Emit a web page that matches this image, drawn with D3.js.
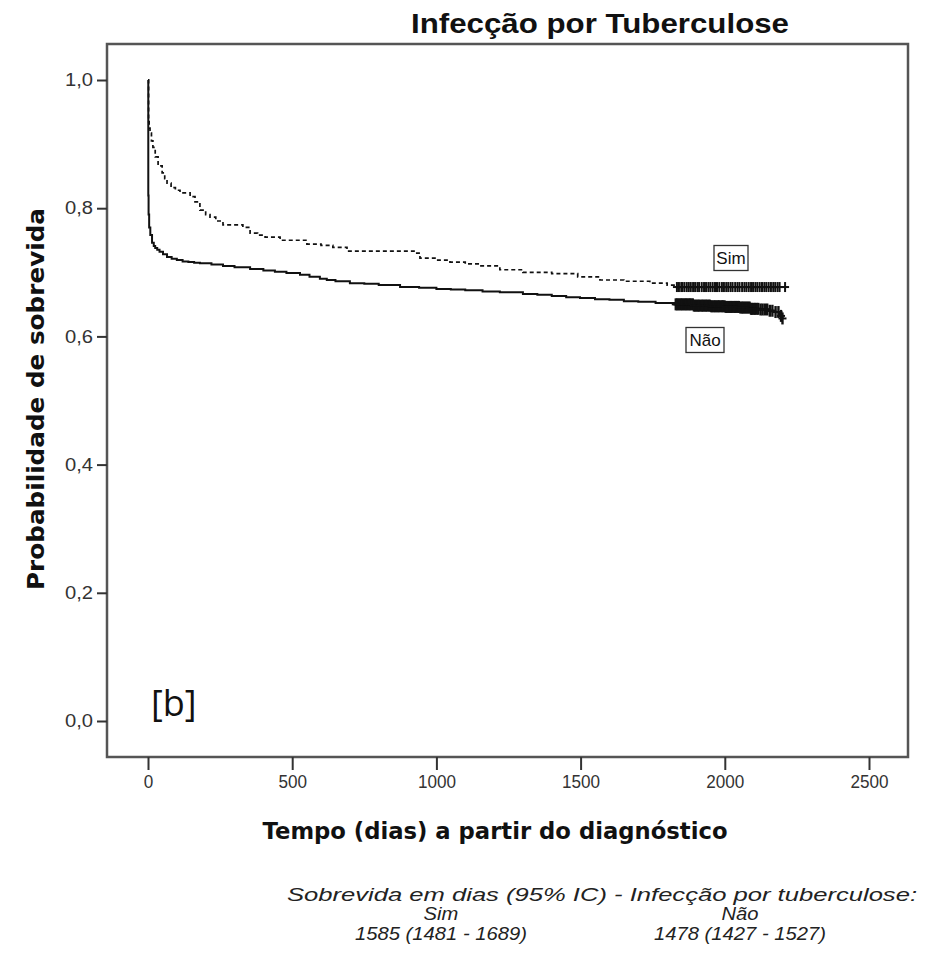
<!DOCTYPE html>
<html><head><meta charset="utf-8">
<script src="https://cdn.jsdelivr.net/npm/d3@7"></script>
<style>body{margin:0;background:#fff}</style>
</head><body>
<svg id="c" width="931" height="966"></svg>
<script>
// ---- data ----
const chartTitle = "Infecção por Tuberculose";
const xTitle = "Tempo (dias) a partir do diagnóstico";
const yTitle = "Probabilidade de sobrevida";
const xTicks = [0, 500, 1000, 1500, 2000, 2500];
const yTicks = [0, 0.2, 0.4, 0.6, 0.8, 1.0];
const groups = ["Sim", "Não"];

const simTime = [0, 2, 4, 7, 12, 17, 25, 35, 49, 58, 66, 80, 95, 111, 146, 163, 180, 200, 215, 235, 260, 329, 354, 380, 406, 458, 527, 551, 600, 641, 690, 926, 943, 1000, 1047, 1100, 1150, 1220, 1300, 1400, 1490, 1567, 1650, 1740, 1800, 1834];
const simSurv = [1.0, 0.935, 0.925, 0.917, 0.905, 0.895, 0.88, 0.866, 0.855, 0.846, 0.839, 0.832, 0.828, 0.824, 0.818, 0.81, 0.797, 0.79, 0.786, 0.78, 0.774, 0.77, 0.761, 0.758, 0.755, 0.750, 0.750, 0.744, 0.742, 0.739, 0.733, 0.730, 0.722, 0.719, 0.716, 0.713, 0.710, 0.704, 0.700, 0.698, 0.693, 0.688, 0.686, 0.683, 0.680, 0.677];
const simCensor = [1834, 1841, 1849, 1853, 1860, 1868, 1875, 1882, 1890, 1897, 1905, 1911, 1920, 1928, 1935, 1943, 1950, 1958, 1966, 1973, 1981, 1990, 1997, 2005, 2012, 2020, 2027, 2036, 2044, 2051, 2060, 2068, 2075, 2083, 2091, 2098, 2106, 2113, 2121, 2129, 2137, 2144, 2152, 2160, 2168, 2175, 2183, 2190, 2209];

const naoTime = [0, 1, 2, 4, 8, 14, 20, 25, 32, 40, 52, 66, 82, 100, 120, 140, 160, 180, 220, 260, 300, 354, 400, 440, 480, 527, 560, 596, 620, 650, 700, 750, 800, 874, 940, 1000, 1050, 1100, 1160, 1220, 1300, 1350, 1400, 1450, 1498, 1550, 1600, 1650, 1700, 1760, 1830, 1890, 1950, 2000, 2050, 2090, 2120, 2150, 2170, 2190, 2200];
const naoSurv = [1.0, 0.82, 0.79, 0.77, 0.758, 0.746, 0.741, 0.738, 0.735, 0.732, 0.728, 0.724, 0.721, 0.719, 0.717, 0.716, 0.715, 0.714, 0.712, 0.710, 0.708, 0.705, 0.703, 0.701, 0.699, 0.696, 0.693, 0.690, 0.688, 0.686, 0.683, 0.682, 0.680, 0.677, 0.676, 0.674, 0.673, 0.672, 0.670, 0.669, 0.666, 0.665, 0.663, 0.661, 0.660, 0.658, 0.657, 0.655, 0.654, 0.652, 0.650, 0.648, 0.647, 0.646, 0.645, 0.643, 0.642, 0.640, 0.638, 0.632, 0.628];
const naoCensor = [1830, 1834, 1839, 1843, 1848, 1852, 1857, 1861, 1866, 1870, 1875, 1879, 1884, 1889, 1893, 1898, 1902, 1907, 1911, 1916, 1921, 1925, 1930, 1934, 1939, 1944, 1948, 1953, 1957, 1962, 1967, 1971, 1976, 1980, 1985, 1990, 1994, 1999, 2003, 2008, 2013, 2017, 2022, 2026, 2031, 2036, 2040, 2045, 2049, 2054, 2059, 2063, 2068, 2072, 2077, 2082, 2086, 2091, 2095, 2100, 2105, 2110, 2116, 2124, 2131, 2139, 2147, 2156, 2165, 2176, 2186, 2195, 2200];

const footLine1 = "Sobrevida em dias (95% IC) - Infecção por tuberculose:";
const footGroups = ["Sim", "Não"];
const footValues = ["1585 (1481 - 1689)", "1478 (1427 - 1527)"];
const panelTag = "[b]";

// ---- drawing ----
const svg = d3.select("#c");
const x = d3.scaleLinear().domain([0, 2500]).range([148, 869]);
const y = d3.scaleLinear().domain([0, 1]).range([721, 80]);

function stretch(sel, f) {
  sel.each(function() {
    const w = this.getComputedTextLength();
    d3.select(this).attr("textLength", w * f).attr("lengthAdjust", "spacingAndGlyphs");
  });
}
function fitTo(sel, w) {
  sel.attr("textLength", w).attr("lengthAdjust", "spacingAndGlyphs");
}

// frame
svg.append("rect").attr("x", 107).attr("y", 44).attr("width", 801).attr("height", 713)
  .attr("fill", "none").attr("stroke", "#555").attr("stroke-width", 2.5);

// y axis
const yAx = svg.append("g").attr("transform", "translate(107,0)")
  .call(d3.axisLeft(y).tickValues(yTicks).tickSize(10).tickPadding(4)
    .tickFormat(d => d3.format(".1f")(d).replace(".", ",")));
yAx.select(".domain").remove();
yAx.selectAll("line").attr("stroke", "#333").attr("stroke-width", 2);
yAx.selectAll("text").attr("font-family", "Liberation Sans, Arial, sans-serif").attr("font-size", 18).attr("fill", "#333");
stretch(yAx.selectAll("text"), 1.12);

// x axis
const xAx = svg.append("g").attr("transform", "translate(0,757)")
  .call(d3.axisBottom(x).tickValues(xTicks).tickSize(13).tickPadding(5).tickFormat(d3.format("d")));
xAx.select(".domain").remove();
xAx.selectAll("line").attr("stroke", "#333").attr("stroke-width", 2);
xAx.selectAll("text").attr("font-family", "Liberation Sans, Arial, sans-serif").attr("font-size", 18).attr("fill", "#333");
stretch(xAx.selectAll("text"), 0.95);

// curves
const line = d3.line().x(d => x(d[0])).y(d => y(d[1])).curve(d3.curveStepAfter);
function surv(times, vals, t) {
  let v = vals[0];
  for (let i = 0; i < times.length; i++) if (times[i] <= t) v = vals[i];
  return v;
}
const simPts = simTime.map((t, i) => [t, simSurv[i]]).concat([[simCensor[simCensor.length - 1], simSurv[simSurv.length - 1]]]);
const naoPts = naoTime.map((t, i) => [t, naoSurv[i]]);

svg.append("path").attr("d", line(simPts)).attr("fill", "none").attr("stroke", "#111")
  .attr("stroke-width", 1.7).attr("stroke-dasharray", "4,3");
svg.append("path").attr("d", line(naoPts)).attr("fill", "none").attr("stroke", "#111")
  .attr("stroke-width", 2);

// censor marks
function censor(times, tv, sv, hh, sw) {
  const g = svg.append("g");
  times.forEach(t => {
    const cy = y(surv(tv, sv, t)), cx = x(t);
    g.append("line").attr("x1", cx).attr("x2", cx).attr("y1", cy - hh).attr("y2", cy + hh)
      .attr("stroke", "#111").attr("stroke-width", sw);
    g.append("line").attr("x1", cx - 4).attr("x2", cx + 4).attr("y1", cy).attr("y2", cy)
      .attr("stroke", "#111").attr("stroke-width", 2);
  });
}
censor(simCensor, simTime, simSurv, 5, 2);
censor(naoCensor, naoTime, naoSurv, 6, 2.4);

// group labels in boxes
function boxLabel(txt, cx, cy, w, h) {
  svg.append("rect").attr("x", cx - w / 2).attr("y", cy - h / 2).attr("width", w).attr("height", h)
    .attr("fill", "#fff").attr("stroke", "#333").attr("stroke-width", 1.3);
  svg.append("text").attr("x", cx).attr("y", cy + 6).attr("text-anchor", "middle")
    .attr("font-family", "Liberation Sans, Arial, sans-serif").attr("font-size", 17).attr("fill", "#111").text(txt);
}
boxLabel(groups[0], 731, 258, 34, 25);
boxLabel(groups[1], 705, 340, 38, 25);

// title
const tt = svg.append("text").attr("x", 600).attr("y", 33).attr("text-anchor", "middle")
  .attr("font-family", "Liberation Sans, Arial, sans-serif").attr("font-weight", "bold").attr("font-size", 27)
  .attr("fill", "#111").text(chartTitle);
fitTo(tt, 378);

// axis titles
const xt = svg.append("text").attr("x", 495).attr("y", 839).attr("text-anchor", "middle")
  .attr("font-family", "DejaVu Sans, sans-serif").attr("font-weight", "bold").attr("font-size", 23)
  .attr("fill", "#111").text(xTitle);
fitTo(xt, 465);
const yt = svg.append("text").attr("transform", "translate(44,399) rotate(-90)").attr("text-anchor", "middle")
  .attr("font-family", "DejaVu Sans, sans-serif").attr("font-weight", "bold").attr("font-size", 23)
  .attr("fill", "#111").text(yTitle);
fitTo(yt, 382);

// panel tag
svg.append("text").attr("x", 151).attr("y", 716).attr("font-family", "Open Sans, Noto Sans, sans-serif")
  .attr("font-size", 36).attr("fill", "#111").text(panelTag);

// footer
const ff = "Liberation Sans, Arial, sans-serif";
const f1 = svg.append("text").attr("x", 917).attr("y", 901).attr("text-anchor", "end")
  .attr("font-family", ff).attr("font-style", "italic").attr("font-size", 18).attr("fill", "#222").text(footLine1);
fitTo(f1, 630);
const fx = [441, 740];
footGroups.forEach((g, i) => {
  const a = svg.append("text").attr("x", fx[i]).attr("y", 920).attr("text-anchor", "middle")
    .attr("font-family", ff).attr("font-style", "italic").attr("font-size", 18).attr("fill", "#222").text(g);
  stretch(a, 1.12);
  const b = svg.append("text").attr("x", fx[i]).attr("y", 940).attr("text-anchor", "middle")
    .attr("font-family", ff).attr("font-style", "italic").attr("font-size", 18).attr("fill", "#222").text(footValues[i]);
  fitTo(b, 172);
});
</script>
</body></html>
